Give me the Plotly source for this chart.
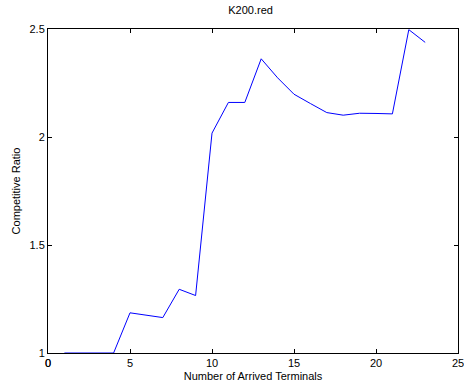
import plotly.graph_objects as go

terminals = list(range(1, 24))
ratios = [1.0, 1.0, 1.0, 1.0, 1.186, 1.175, 1.164, 1.295, 1.266, 2.018,
          2.16, 2.16, 2.362, 2.274, 2.198, 2.155, 2.113, 2.101, 2.110, 2.109,
          2.107, 2.497, 2.438]
x_ticks = [0, 5, 10, 15, 20, 25]
x_tick_text = ["0", "5", "10", "15", "20", "25"]
y_ticks = [1, 1.5, 2, 2.5]
y_tick_text = ["1", "1.5", "2", "2.5"]

fig = go.Figure()
fig.add_trace(go.Scatter(x=terminals, y=ratios, mode="lines",
                         line=dict(color="#0000ff", width=1)))

font = dict(family="Liberation Sans, Arial, Helvetica, sans-serif", size=11, color="black")
axis_common = dict(showgrid=False, zeroline=False, showline=True, linecolor="black",
                   linewidth=1, mirror="ticks", ticks="inside", ticklen=4,
                   tickcolor="black", tickfont=font, ticklabeloverflow="allow",
                   automargin=False)

fig.update_layout(
    width=464, height=389,
    margin=dict(l=48, r=6, t=29, b=36),
    paper_bgcolor="white", plot_bgcolor="white",
    showlegend=False,
    font=font,
    title=dict(text="K200.red", x=0.54, xanchor="center", y=0.985, yanchor="top",
               font=dict(family=font["family"], size=11, color="black")),
    xaxis=dict(range=[0, 25], tickvals=x_ticks, ticktext=x_tick_text,
               title=dict(text="Number of Arrived Terminals", font=font, standoff=4),
               **axis_common),
    yaxis=dict(range=[1, 2.5], tickvals=y_ticks, ticktext=y_tick_text,
               title=dict(text="Competitive Ratio", font=font, standoff=6), **axis_common),
)

# the corner label "0" is suppressed by plotly's overlap check, so add it as text
if fig.layout.xaxis.ticktext[0] == "0":
    fig.add_annotation(x=x_ticks[0], xref="x", y=0, yref="paper", yanchor="top",
                       yshift=-2, text=x_tick_text[0], showarrow=False, font=font)

fig.write_html("out.html")
